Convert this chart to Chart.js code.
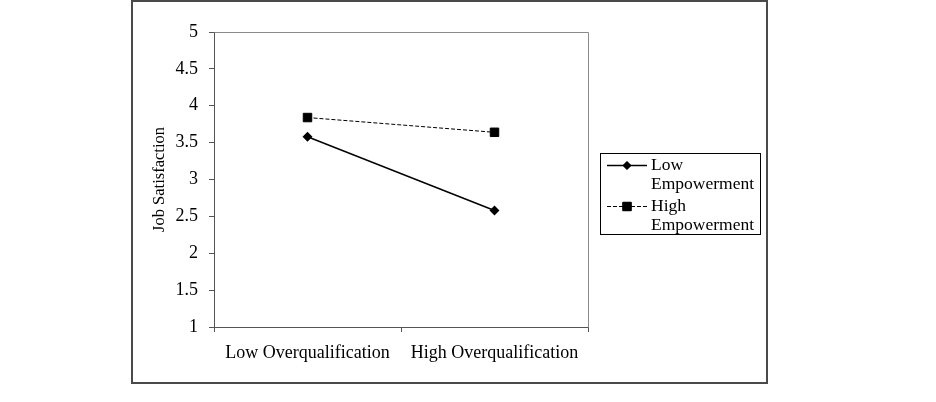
<!DOCTYPE html>
<html>
<head>
<meta charset="utf-8">
<script src="https://cdn.jsdelivr.net/npm/chart.js@4"></script>
<style>
html,body{margin:0;padding:0;background:#fff;}
#wrap{width:936px;height:402px;position:relative;}
</style>
</head>
<body>
<div id="wrap"><canvas id="c" width="936" height="402"></canvas></div>
<script>
const categories = ["Low Overqualification", "High Overqualification"];
const lowEmpowerment = [3.58, 2.58];
const highEmpowerment = [3.84, 3.64];
const seriesNames = [["Low", "Empowerment"], ["High", "Empowerment"]];
const yTitle = "Job Satisfaction";
const yMin = 1, yMax = 5, yStep = 0.5;

const FONT = "'Liberation Serif', 'Times New Roman', serif";

const framePlugin = {
  id: 'frame',
  afterDraw(chart) {
    const ctx = chart.ctx;
    const ca = chart.chartArea;
    ctx.save();
    ctx.strokeStyle = '#8a8a8a';
    ctx.lineWidth = 1;
    ctx.beginPath();
    ctx.moveTo(Math.round(ca.left) + 0.5, Math.round(ca.top) + 0.5);
    ctx.lineTo(Math.round(ca.right) + 0.5, Math.round(ca.top) + 0.5);
    ctx.lineTo(Math.round(ca.right) + 0.5, Math.round(ca.bottom) + 0.5);
    ctx.stroke();
    ctx.strokeStyle = '#4a4a4a';
    ctx.lineWidth = 2;
    ctx.strokeRect(132, 1, 635, 382);
    const lx = 600.5, ly = 153.5, lw = 160, lh = 81;
    ctx.strokeStyle = '#000';
    ctx.lineWidth = 1;
    ctx.strokeRect(lx, ly, lw, lh);
    ctx.font = "17.5px " + FONT;
    ctx.fillStyle = '#000';
    ctx.textBaseline = 'middle';
    ctx.textAlign = 'left';
    const rows = [165, 206];
    chart.data.datasets.forEach((ds, i) => {
      const y = rows[i];
      ctx.save();
      ctx.strokeStyle = '#000';
      ctx.lineWidth = ds.borderWidth;
      ctx.setLineDash(ds.borderDash || []);
      ctx.beginPath();
      ctx.moveTo(607, y + 0.5);
      ctx.lineTo(647, y + 0.5);
      ctx.stroke();
      ctx.restore();
      Chart.helpers.drawPoint(ctx, {pointStyle: ds.pointStyle, radius: ds.pointRadius, borderWidth: 1}, 627, y + 0.5);
      ctx.fillStyle = '#000';
      ctx.fill();
      ctx.fillText(ds.label[0], 651, y);
      ctx.fillText(ds.label[1], 651, y + 19);
    });
    ctx.restore();
  }
};

new Chart(document.getElementById('c'), {
  type: 'line',
  data: {
    labels: categories,
    datasets: [
      {
        label: seriesNames[0],
        data: lowEmpowerment,
        borderColor: '#000',
        backgroundColor: '#000',
        borderWidth: 1.4,
        pointStyle: 'rectRot',
        pointRadius: 4,
        pointBackgroundColor: '#000',
        pointBorderColor: '#000',
        tension: 0
      },
      {
        label: seriesNames[1],
        data: highEmpowerment,
        borderColor: '#000',
        backgroundColor: '#000',
        borderWidth: 1,
        borderDash: [4, 2],
        pointStyle: 'rect',
        pointRadius: 6,
        pointBackgroundColor: '#000',
        pointBorderColor: '#000',
        tension: 0
      }
    ]
  },
  options: {
    responsive: false,
    animation: false,
    devicePixelRatio: 1,
    layout: { padding: { left: 148, right: 348, top: 32, bottom: 10 } },
    plugins: { legend: { display: false }, tooltip: { enabled: false } },
    scales: {
      x: {
        type: 'category',
        offset: true,
        grid: { offset: true, drawOnChartArea: false, drawTicks: true, tickLength: 5, color: '#555' },
        border: { color: '#555', width: 1 },
        ticks: { color: '#000', font: { family: FONT, size: 18 }, padding: 10, maxRotation: 0 },
        afterFit(s) { s.height = 65; }
      },
      y: {
        min: yMin, max: yMax,
        grid: { drawOnChartArea: false, drawTicks: true, tickLength: 5, color: '#555' },
        border: { color: '#555', width: 1 },
        ticks: { stepSize: yStep, color: '#000', font: { family: FONT, size: 18 }, padding: 11,
                 callback: (v) => String(v) },
        title: { display: true, text: yTitle, color: '#000', font: { family: FONT, size: 16.5 }, padding: { top: 2, bottom: 0 } },
        afterFit(s) { s.width = 66; }
      }
    }
  },
  plugins: [framePlugin]
});
</script>
</body>
</html>
